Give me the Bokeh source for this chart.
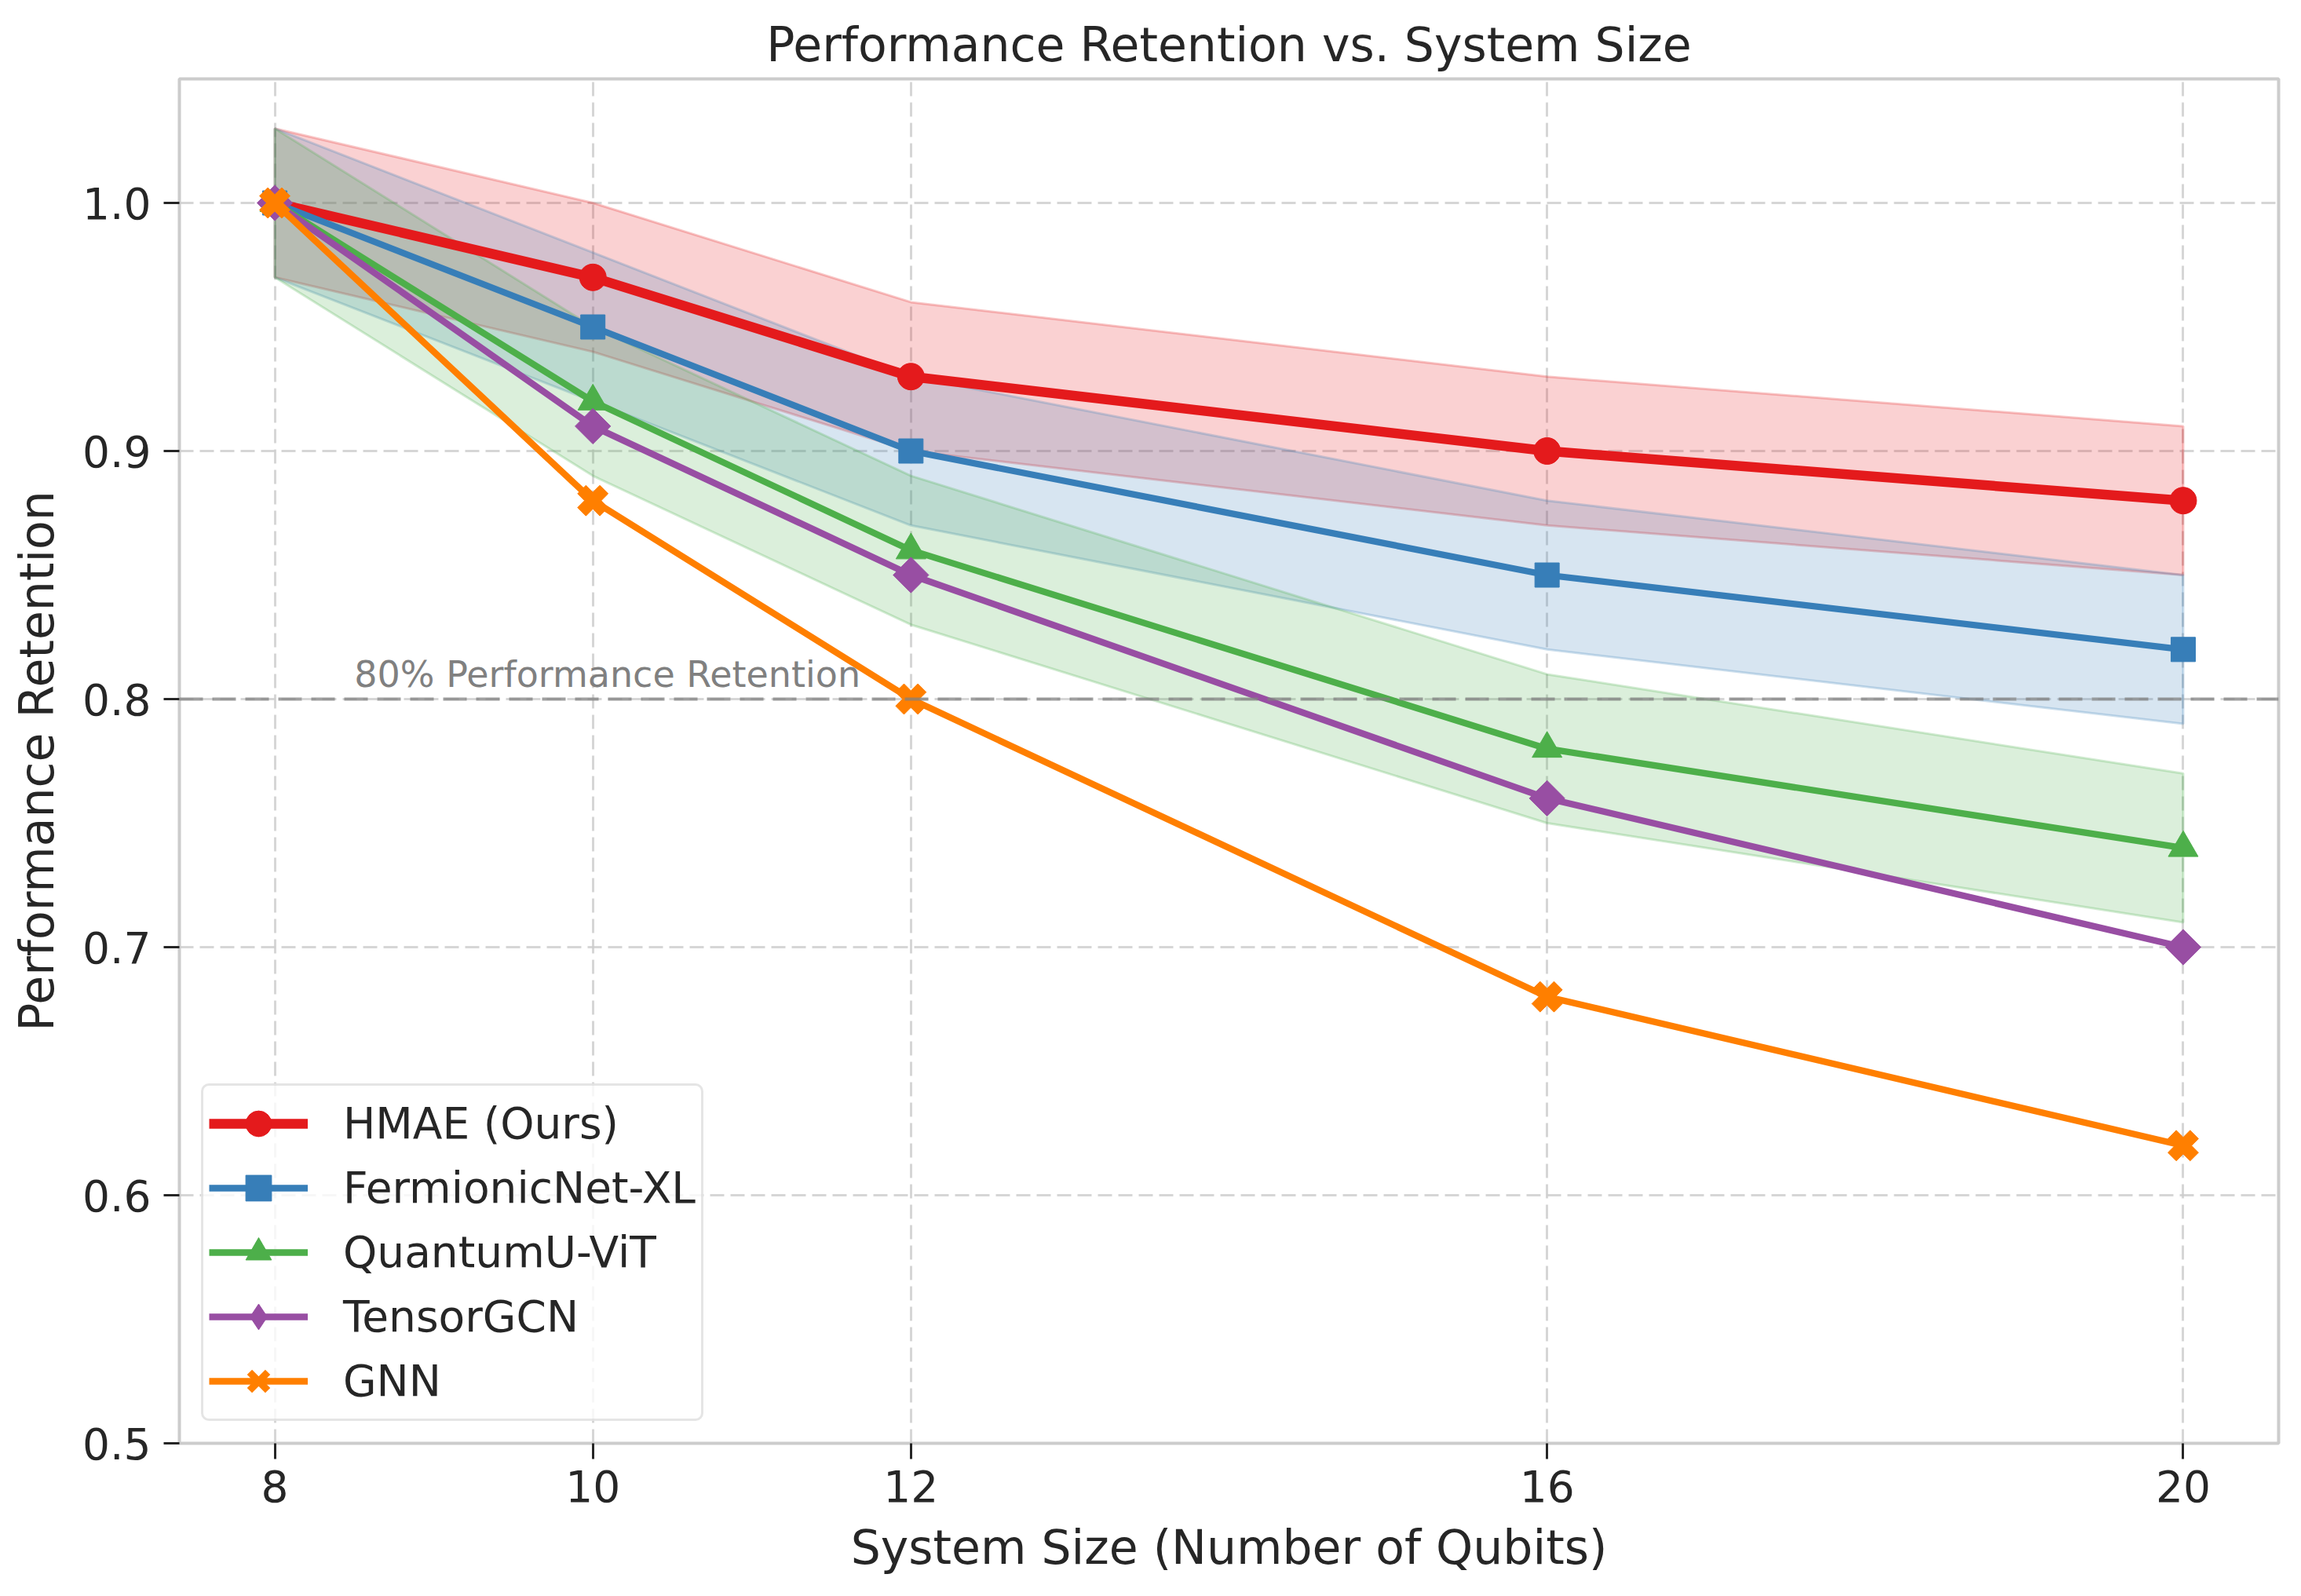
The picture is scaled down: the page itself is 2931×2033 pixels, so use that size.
import math
from bokeh.plotting import figure
from bokeh.models import (FixedTicker, PrintfTickFormatter, Span, Legend, LegendItem,
                          ColumnDataSource, Label)
from bokeh.embed import file_html
from bokeh.resources import INLINE

# ---------------- data ----------------
qubits = [8, 10, 12, 16, 20]
hmae = [1.00, 0.97, 0.93, 0.90, 0.88]
fermionic = [1.00, 0.95, 0.90, 0.85, 0.82]
quantum_vit = [1.00, 0.92, 0.86, 0.78, 0.74]
tensor_gcn = [1.00, 0.91, 0.85, 0.76, 0.70]
gnn = [1.00, 0.88, 0.80, 0.68, 0.62]

hmae_upper = [1.03, 1.00, 0.96, 0.93, 0.91]
hmae_lower = [0.97, 0.94, 0.90, 0.87, 0.85]
fermionic_upper = [1.03, 0.98, 0.93, 0.88, 0.85]
fermionic_lower = [0.97, 0.92, 0.87, 0.82, 0.79]
vit_upper = [1.03, 0.95, 0.89, 0.81, 0.77]
vit_lower = [0.97, 0.89, 0.83, 0.75, 0.71]

threshold = 0.8
threshold_label = "80% Performance Retention"
x_ticks = [8, 10, 12, 16, 20]
y_ticks = [0.5, 0.6, 0.7, 0.8, 0.9, 1.0]

FONT = "DejaVu Sans"
TXT = "#262626"

p = figure(width=2912, height=2012, x_range=(7.4, 20.6), y_range=(0.5, 1.05),
           output_backend="svg", toolbar_location=None,
           min_border_left=228, min_border_right=10, min_border_top=100, min_border_bottom=174,
           title="Performance Retention vs. System Size")

p.title.text_font = FONT
p.title.text_font_size = "60px"
p.title.text_font_style = "normal"
p.title.text_color = TXT
p.title.align = "center"
p.title.standoff = 17

p.outline_line_color = "#cccccc"
p.outline_line_width = 4
p.background_fill_color = "white"
p.border_fill_color = "white"

for ax in (p.xaxis[0], p.yaxis[0]):
    ax.axis_line_color = None
    ax.major_tick_out = 20
    ax.major_tick_in = 0
    ax.major_tick_line_color = TXT
    ax.major_tick_line_width = 3
    ax.minor_tick_line_color = None
    ax.major_label_text_font = FONT
    ax.major_label_text_font_size = "55px"
    ax.major_label_text_color = TXT
    ax.axis_label_text_font = FONT
    ax.axis_label_text_font_size = "60px"
    ax.axis_label_text_font_style = "normal"
    ax.axis_label_text_color = TXT

p.xaxis.ticker = FixedTicker(ticks=x_ticks)
p.yaxis.ticker = FixedTicker(ticks=y_ticks)
p.yaxis.formatter = PrintfTickFormatter(format="%.1f")
p.xaxis.major_label_standoff = 14
p.yaxis.major_label_standoff = 16
p.xaxis.axis_label = "System Size (Number of Qubits)"
p.yaxis.axis_label = "Performance Retention"
p.xaxis.axis_label_standoff = 20
p.yaxis.axis_label_standoff = 20

for g in (p.xgrid[0], p.ygrid[0]):
    g.grid_line_color = "#cccccc"
    g.grid_line_alpha = 0.8
    g.grid_line_width = 3
    g.grid_line_dash = "18 8"

# ---------------- bands ----------------
bands = [
    (hmae_upper, hmae_lower, "#e41a1c"),
    (fermionic_upper, fermionic_lower, "#377eb8"),
    (vit_upper, vit_lower, "#4daf4a"),
]
for up, lo, c in bands:
    xs = list(qubits) + list(reversed(qubits))
    ys = list(up) + list(reversed(lo))
    p.patch(xs, ys, fill_color=c, fill_alpha=0.2, line_color=c, line_alpha=0.25, line_width=3)

# threshold line
p.add_layout(Span(location=threshold, dimension="width", line_color="#808080",
                  line_alpha=0.75, line_width=4, line_dash="30 12"))
p.add_layout(Label(x=8.5, y=0.81, text=threshold_label, text_font=FONT,
                   text_font_size="46px", text_color="#808080", text_baseline="alphabetic"))

# ---------------- series ----------------
# (name, values, colour, line width, plot marker, size, angle, legend marker)
series = [
    ("HMAE (Ours)", hmae, "#e41a1c", 12.5, "circle", 34, 0.0, None),
    ("FermionicNet-XL", fermionic, "#377eb8", 8.3, "square", 31, 0.0, None),
    ("QuantumU-ViT", quantum_vit, "#4daf4a", 8.3, "triangle", 38, 0.0, None),
    ("TensorGCN", tensor_gcn, "#984ea3", 8.3, "square", 32, math.pi / 4, "diamond"),
    ("GNN", gnn, "#ff7f00", 8.3, "plus", 40, math.pi / 4, "x"),
]
items = []
for name, ys, c, lw, mk, sz, ang, legmk in series:
    src = ColumnDataSource(dict(x=qubits, y=ys))
    lr = p.line("x", "y", source=src, line_color=c, line_width=lw)
    sr = p.scatter("x", "y", source=src, marker=mk, size=sz, angle=ang,
                   fill_color=c, line_color=c, line_width=1)
    rends = [lr, sr]
    if legmk is not None:
        # legend-only glyph (size 0 in the plot; the legend sets its own size)
        lg = p.scatter("x", "y", source=src, marker=legmk, size=0,
                       fill_color=c, line_color=c, line_width=9 if legmk == "x" else 1)
        rends = [lr, lg]
    items.append(LegendItem(label=name, renderers=rends))

legend = Legend(items=items, location=(28, 28))
legend.label_text_font = FONT
legend.label_text_font_size = "55px"
legend.label_text_color = TXT
legend.glyph_width = 126
legend.glyph_height = 82
legend.label_height = 82
legend.label_standoff = 45
legend.spacing = 0
legend.padding = 7
legend.margin = 0
legend.border_line_color = "#cccccc"
legend.border_line_width = 3
legend.background_fill_alpha = 0.8
try:
    legend.border_radius = 10
except Exception:
    pass
p.add_layout(legend, "center")

open("out.html", "w").write(file_html(p, INLINE))
